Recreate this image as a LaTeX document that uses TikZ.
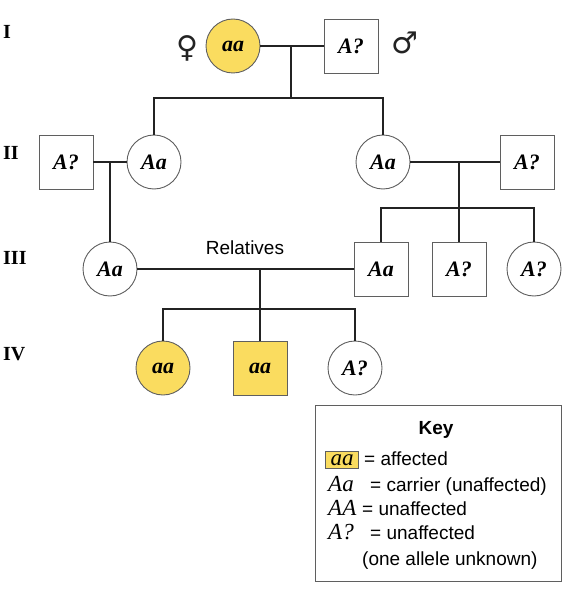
\documentclass[tikz,border=0pt]{standalone}
\usepackage{fontspec}
\setmainfont{Liberation Serif}
\setsansfont{Liberation Sans}
\newfontfamily\symbfont{DejaVu Sans}
\definecolor{affyellow}{RGB}{250,220,95}
\definecolor{outline}{RGB}{95,95,95}
\definecolor{linecol}{RGB}{35,35,35}

\begin{document}
\begin{tikzpicture}[x=1pt, y=-1pt,
            every node/.style = {inner sep=0pt},
            person/.style = {draw=outline, line width=0.9pt, fill=white,
                font=\fontsize{22}{22}\selectfont\bfseries\itshape},
            female/.style = {person, circle, minimum size=54pt},
            male/.style = {person, rectangle, minimum size=54pt},
            affected/.style = {fill=affyellow},
            gen/.style = {anchor=west, font=\fontsize{20}{20}\selectfont\bfseries},
            sex/.style = {font=\symbfont\fontsize{30}{30}\selectfont, text=linecol},
            keytext/.style = {anchor=base west, font=\sffamily\fontsize{19}{19}\selectfont},
            keylabel/.style = {anchor=base west, font=\fontsize{23}{23}\selectfont\itshape},
            swatch/.style = {draw=outline, line width=0.9pt, fill=affyellow,
                inner xsep=5pt, inner ysep=3pt, text height=10.5pt, text depth=0pt,
                font=\fontsize{23}{23}\selectfont\itshape},
            line/.style = {draw=linecol, line width=1.6pt}]
\useasboundingbox (0,0) rectangle (564,596);

\node[gen] (gI) at (3,32) {I};
\node[gen] (gII) at (3,153) {II};
\node[gen] (gIII) at (3,258) {III};
\node[gen] (gIV) at (3,354) {IV};

\node[sex] (venus) at (187,48) {♀};
\node[female, affected] (fI) at (233,46) {aa};
\node[male] (mI) at (351,46) {A?};
\node[sex] (mars) at (405,43) {♂};

\node[male] (mIIa) at (66,162) {A?};
\node[female] (fIIa) at (154,162) {Aa};
\node[female] (fIIb) at (383,162) {Aa};
\node[male] (mIIb) at (527,162) {A?};

\node[female] (fIII) at (110,269) {Aa};
\node[male] (mIIIa) at (381,269) {Aa};
\node[male] (mIIIb) at (459,269) {A?};
\node[female] (fIIIc) at (534,269) {A?};
\node[keytext, anchor=center] (rel) at (245,248) {Relatives};

\node[female, affected] (fIVa) at (163,368) {aa};
\node[male, affected] (mIVb) at (260,368) {aa};
\node[female] (fIVc) at (355,368) {A?};

\coordinate (cI) at (291,46);
\coordinate (sI) at (291,98);
\coordinate (cIIa) at (110,162);
\coordinate (cIIb) at (459,162);
\coordinate (sIIb) at (459,208);
\coordinate (cIII) at (260,269);
\coordinate (sIII) at (260,309);

\draw[line] (fI) -- (mI);
\draw[line] (cI) -- (sI) (fIIa) |- (sI) -| (fIIb);
\draw[line] (mIIa) -- (fIIa);
\draw[line] (cIIa) -- (fIII);
\draw[line] (fIIb) -- (mIIb);
\draw[line] (cIIb) -- (mIIIb) (mIIIa) |- (sIIb) -| (fIIIc);
\draw[line] (fIII) -- (mIIIa);
\draw[line] (cIII) -- (mIVb) (fIVa) |- (sIII) -| (fIVc);

\node[draw=outline, line width=1pt, minimum width=246pt, minimum height=176pt] (key) at (438,493) {};
\node[font=\sffamily\bfseries\fontsize{19}{19}\selectfont] (keyhead) at (436,430) {Key};
\node[swatch] (kaa) at (342,460) {aa};
\node[keytext] (kaff) at (364,465) {= affected};
\node[keylabel] (kAa) at (328,491) {Aa};
\node[keytext] (kcar) at (370,491) {= carrier (unaffected)};
\node[keylabel] (kAA) at (328,515) {AA};
\node[keytext] (kunaff) at (362,515) {= unaffected};
\node[keylabel] (kAq) at (328,539) {A?};
\node[keytext] (kunk) at (370,539) {= unaffected};
\node[keytext] (kone) at (362,565) {(one allele unknown)};

\end{tikzpicture}
\end{document}
